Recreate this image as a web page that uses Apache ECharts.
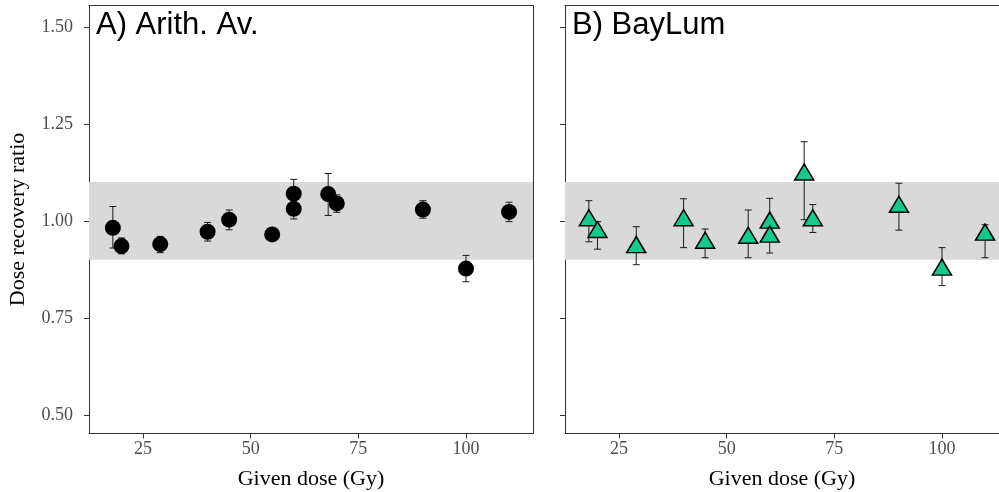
<!DOCTYPE html>
<html>
<head>
<meta charset="utf-8">
<script src="https://cdn.jsdelivr.net/npm/echarts@6/dist/echarts.min.js"></script>
<style>
  html, body { margin: 0; padding: 0; background: #fff; }
  #chart { width: 999px; height: 492px; }
</style>
</head>
<body>
<div id="chart"></div>
<script>
// Given doses (Gy) of the recovery experiments
const dose = [18, 20, 29, 40, 45, 55, 60, 60, 68, 70, 90, 100, 110];

// A) arithmetic average: dose recovery ratio with error interval
const arithRatio = [0.982, 0.935, 0.940, 0.972, 1.003, 0.965, 1.031, 1.070, 1.069, 1.045, 1.029, 0.877, 1.023];
const arithLow   = [0.930, 0.915, 0.918, 0.948, 0.977, 0.955, 1.005, 1.045, 1.014, 1.022, 1.007, 0.843, 0.998];
const arithHigh  = [1.037, 0.956, 0.960, 0.996, 1.028, 0.975, 1.057, 1.107, 1.122, 1.067, 1.052, 0.911, 1.048];

// B) BayLum estimates: dose recovery ratio with credible interval
const bayRatio = [1.001, 0.971, 0.932, 1.001, 0.943, 0.956, 0.995, 0.959, 1.119, 1.001, 1.036, 0.874, 0.964];
const bayLow   = [0.946, 0.927, 0.887, 0.931, 0.905, 0.905, 0.970, 0.917, 1.003, 0.970, 0.976, 0.833, 0.905];
const bayHigh  = [1.052, 0.998, 0.985, 1.057, 0.979, 1.028, 1.058, 1.000, 1.204, 1.042, 1.097, 0.931, 0.990];

// Acceptance band and axis ticks
const bandLow = 0.9;
const bandHigh = 1.1;
const xTicks = [25, 50, 75, 100];
const yTicks = [0.5, 0.75, 1.0, 1.25, 1.5];
const panelTitles = ['A) Arith. Av.', 'B) BayLum'];

// Both panels share the same scale (px per Gy); the right one runs off the page edge
const PANEL_W = 444;
const X_MIN = 12.46, X_MAX = 115.56;
const PX_PER_GY = PANEL_W / (X_MAX - X_MIN);
const RIGHT_LEFT = 565;
const RIGHT_W = 999 - RIGHT_LEFT;
const X_MAX_RIGHT = X_MIN + RIGHT_W / PX_PER_GY;
const Y_MIN = 0.452, Y_MAX = 1.555;

const serif = '"Liberation Serif", "DejaVu Serif", serif';
const sans = '"Liberation Sans", Arial, sans-serif';

const chart = echarts.init(document.getElementById('chart'), null, { renderer: 'canvas' });

const grids = [
  { left: 89, top: 5.5, width: PANEL_W, height: 428, outerBoundsMode: 'none', containLabel: false },
  { left: RIGHT_LEFT, top: 5.5, width: RIGHT_W, height: 428, outerBoundsMode: 'none', containLabel: false }
];

function xAxisFor(gi, pos) {
  const bottom = pos === 'bottom';
  return {
    type: 'value', gridIndex: gi, position: pos, min: X_MIN, max: gi === 0 ? X_MAX : X_MAX_RIGHT,
    name: bottom ? 'Given dose (Gy)' : '', nameLocation: 'middle', nameGap: 35,
    nameTextStyle: { fontFamily: serif, fontSize: 22, color: '#000' },
    axisLine: { show: true, onZero: false, lineStyle: { color: '#333', width: 1 } },
    axisTick: { show: bottom, length: 5, customValues: xTicks, lineStyle: { color: '#333', width: 1 } },
    axisLabel: { show: bottom, customValues: xTicks, margin: 7, fontFamily: serif, fontSize: 18, color: '#4d4d4d' },
    splitLine: { show: false }
  };
}

function yAxisFor(gi, pos) {
  const left = pos === 'left';
  return {
    type: 'value', gridIndex: gi, position: pos, min: Y_MIN, max: Y_MAX,
    name: (left && gi === 0) ? 'Dose recovery ratio' : '', nameLocation: 'middle', nameGap: 60,
    nameRotate: 90,
    nameTextStyle: { fontFamily: serif, fontSize: 22, color: '#000' },
    axisLine: { show: left || gi === 0, onZero: false, lineStyle: { color: '#333', width: 1 } },
    axisTick: { show: left, length: 5, customValues: yTicks, lineStyle: { color: '#333', width: 1 } },
    axisLabel: {
      show: left && gi === 0, customValues: yTicks, margin: 16,
      fontFamily: serif, fontSize: 18, color: '#4d4d4d',
      formatter: v => v.toFixed(2)
    },
    splitLine: { show: false }
  };
}

function errorBars(xi, lo, hi) {
  return {
    type: 'custom', xAxisIndex: xi, yAxisIndex: xi, z: 3,
    data: dose.map((d, i) => [d, lo[i], hi[i]]),
    encode: { x: 0, y: [1, 2] },
    renderItem: (params, api) => {
      const x = api.value(0);
      const top = api.coord([x, api.value(2)]);
      const bot = api.coord([x, api.value(1)]);
      const hw = 3.5;
      const st = { stroke: '#1a1a1a', lineWidth: 1 };
      return {
        type: 'group', children: [
          { type: 'line', shape: { x1: top[0], y1: top[1], x2: bot[0], y2: bot[1] }, style: st },
          { type: 'line', shape: { x1: top[0] - hw, y1: top[1], x2: top[0] + hw, y2: top[1] }, style: st },
          { type: 'line', shape: { x1: bot[0] - hw, y1: bot[1], x2: bot[0] + hw, y2: bot[1] }, style: st }
        ]
      };
    }
  };
}

function band(xi) {
  return {
    type: 'line', xAxisIndex: xi, yAxisIndex: xi, data: [], z: 1,
    markArea: {
      silent: true,
      itemStyle: { color: '#d9d9d9' },
      data: [[{ yAxis: bandLow }, { yAxis: bandHigh }]]
    }
  };
}

const triH = 16, triW = 19;

const option = {
  backgroundColor: '#fff',
  animation: false,
  title: panelTitles.map((t, i) => ({
    text: t, left: grids[i].left + 7, top: 10, padding: 0,
    textStyle: { fontFamily: sans, fontSize: 31, fontWeight: 'normal', color: '#000' }
  })),
  grid: grids,
  xAxis: [xAxisFor(0, 'bottom'), xAxisFor(1, 'bottom'), xAxisFor(0, 'top'), xAxisFor(1, 'top')],
  yAxis: [yAxisFor(0, 'left'), yAxisFor(1, 'left'), yAxisFor(0, 'right'), yAxisFor(1, 'right')],
  series: [
    band(0), band(1),
    errorBars(0, arithLow, arithHigh),
    errorBars(1, bayLow, bayHigh),
    {
      type: 'scatter', xAxisIndex: 0, yAxisIndex: 0, z: 4,
      symbol: 'circle', symbolSize: 16,
      itemStyle: { color: '#000', opacity: 1 },
      data: dose.map((d, i) => [d, arithRatio[i]])
    },
    {
      type: 'scatter', xAxisIndex: 1, yAxisIndex: 1, z: 4,
      symbol: 'triangle', symbolSize: [triW, triH], symbolOffset: [0, -triH / 6],
      itemStyle: { color: '#13c98e', borderColor: '#000', borderWidth: 1.5, opacity: 1 },
      data: dose.map((d, i) => [d, bayRatio[i]])
    }
  ]
};

chart.setOption(option);
</script>
</body>
</html>
